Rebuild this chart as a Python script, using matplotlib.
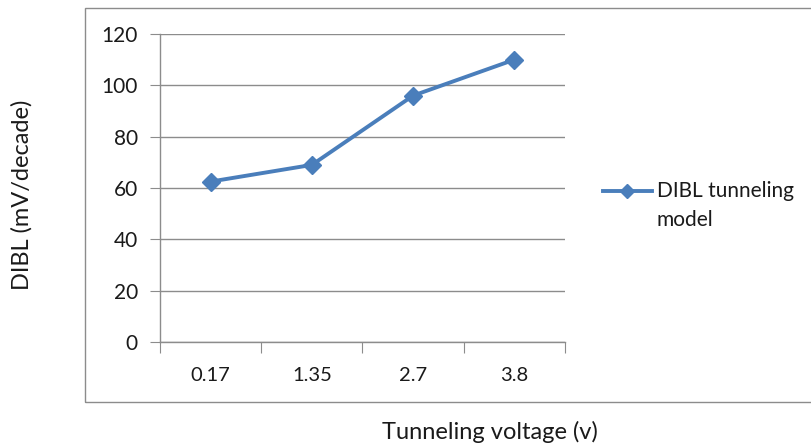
import matplotlib
matplotlib.use("Agg")
import matplotlib.pyplot as plt
from matplotlib.patches import Rectangle
from matplotlib.lines import Line2D

categories = ["0.17", "1.35", "2.7", "3.8"]
dibl_values = [62.5, 69, 96, 110]
y_ticks = [0, 20, 40, 60, 80, 100, 120]
series_name = "DIBL tunneling\nmodel"

W, H = 812, 446
plt.rcParams['font.family'] = ['Lato', 'DejaVu Sans']
fig = plt.figure(figsize=(W / 100, H / 100), dpi=100)

def fx(px):
    return px / W

def fy(py):
    return 1 - py / H

# chart frame
fig.patches.append(Rectangle((fx(85), fy(402)), fx(740), (402 - 8) / H,
                             transform=fig.transFigure, fill=False,
                             edgecolor="#8c8c8c", linewidth=1.0))

ax = fig.add_axes([fx(160), fy(342), fx(405), 308 / H])
line_color = "#4a7ebb"
grid_color = "#8c8c8c"
text_color = "#1a1a1a"

x = list(range(len(categories)))
ax.plot(x, dibl_values, color=line_color, linewidth=2.8, marker="D",
        markersize=9, markerfacecolor=line_color, markeredgecolor=line_color)

ax.set_xlim(-0.5, len(categories) - 0.5)
ax.set_ylim(0, 120)
ax.set_yticks(y_ticks)
ax.set_yticklabels([str(v) for v in y_ticks], fontsize=15, color=text_color)
ax.yaxis.grid(True, color=grid_color, linewidth=1.0)
ax.set_axisbelow(True)

ax.set_xticks([i - 0.5 for i in range(len(categories) + 1)])
ax.set_xticklabels([])
ax.set_xticks(x, minor=True)
ax.set_xticklabels(categories, minor=True, fontsize=14.5, color=text_color)
ax.tick_params(axis="x", which="major", length=8, direction="out", color=grid_color)
ax.tick_params(axis="x", which="minor", length=0, pad=18)
ax.tick_params(axis="y", length=7, direction="out", color=grid_color, pad=9)

for s in ("top", "right"):
    ax.spines[s].set_visible(False)
for s in ("left", "bottom"):
    ax.spines[s].set_color(grid_color)
    ax.spines[s].set_linewidth(1.0)

fig.text(fx(22), fy(195), "DIBL (mV/decade)", rotation=90, ha="center",
         va="center", fontsize=17, color=text_color)
fig.text(fx(490), fy(432), "Tunneling voltage (v)", ha="center",
         va="center", fontsize=17, color=text_color)

# legend
fig.add_artist(Line2D([fx(603), fx(652)], [fy(191), fy(191)],
                      transform=fig.transFigure, color=line_color, linewidth=2.8))
fig.add_artist(Line2D([fx(627)], [fy(191)], transform=fig.transFigure,
                      marker="D", markersize=7, color=line_color, linestyle="none"))
fig.text(fx(657), fy(191), "DIBL tunneling", ha="left", va="center",
         fontsize=15, color=text_color)
fig.text(fx(657), fy(220), "model", ha="left", va="center",
         fontsize=15, color=text_color)

fig.savefig("out.png", dpi=100)
